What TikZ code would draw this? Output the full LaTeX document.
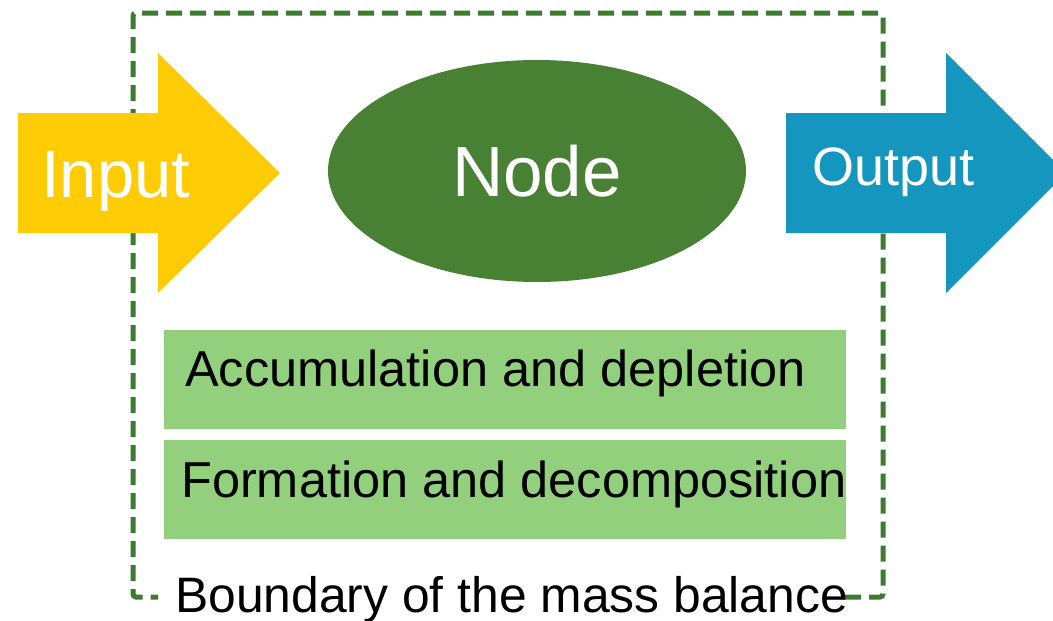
\documentclass[tikz,border=0pt]{standalone}
\usepackage{fontspec}
\setmainfont{Liberation Sans}
\usetikzlibrary{shapes.geometric}

\definecolor{inyellow}{RGB}{255,204,5}
\definecolor{outblue}{RGB}{20,150,190}
\definecolor{nodegreen}{RGB}{72,128,52}
\definecolor{edgegreen}{RGB}{64,122,46}
\definecolor{boxgreen}{RGB}{146,208,126}

\tikzset{
  flowlabel/.style={text=white, inner sep=0pt, anchor=base west},
  procbox/.style={fill=boxgreen, draw=none},
  proctext/.style={inner sep=0pt, anchor=base west, font=\fontsize{50.5}{60}\selectfont},
  boundline/.style={draw=edgegreen, line width=5pt, dash pattern=on 16pt off 8pt,
                    rounded corners=3pt},
}

\begin{document}
\begin{tikzpicture}[x=1pt, y=-1pt]
  \useasboundingbox (0,0) rectangle (1053,621);

  % system boundary (drawn first, behind everything)
  \coordinate (bR) at (845,597);
  \coordinate (cBR) at (883,597);
  \coordinate (cTR) at (883,13);
  \coordinate (cTL) at (133,13);
  \coordinate (cBL) at (133,597);
  \coordinate (bL) at (158,597);
  \draw[boundline] (bR) -- (cBR) -- (cTR) -- (cTL) -- (cBL) -- (bL);

  % input arrow
  \fill[inyellow] (18,113) -- (158,113) -- (158,53) -- (280,173)
                  -- (158,293) -- (158,233) -- (18,233) -- cycle;
  \node[flowlabel, font=\fontsize{67}{80}\selectfont] (input) at (41,197) {Input};

  % control volume node
  \node[ellipse, fill=nodegreen, minimum width=418pt, minimum height=222pt,
        inner sep=0pt, text=white, font=\fontsize{71}{85}\selectfont]
        (node) at (537,171) {Node};

  % output arrow
  \fill[outblue] (786,113) -- (946,113) -- (946,53) -- (1066,173)
                 -- (946,293) -- (946,233) -- (786,233) -- cycle;
  \node[flowlabel, font=\fontsize{54}{65}\selectfont] (output) at (812,185) {Output};

  % internal processes
  \fill[procbox] (164,330) rectangle (846,429);
  \node[proctext] (accum) at (185,386) {Accumulation and depletion};
  \fill[procbox] (164,440) rectangle (846,539);
  \node[proctext] (form) at (181,497) {Formation and decomposition};

  % boundary caption
  \node[inner sep=0pt, anchor=base west, font=\fontsize{49.8}{60}\selectfont]
       (bound) at (175,612) {Boundary of the mass balance};
\end{tikzpicture}
\end{document}
